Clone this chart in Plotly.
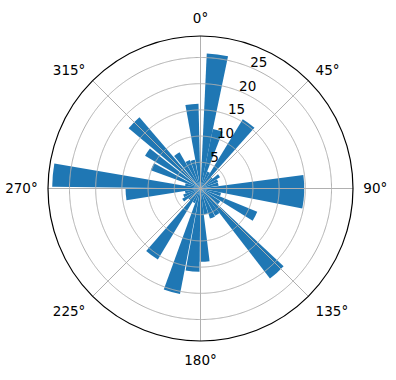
import numpy as np
import plotly.graph_objects as go

# Bars: centre angle (deg, compass, clockwise from north), angular width (deg), radius
bar_theta = [354.2, 0.6, 7.2, 16.5, 26.4, 36.5, 46.0, 55.5, 65.0, 76.0, 91.8,
             106.5, 117.0, 127.5, 137.7, 147.0, 157.5, 168.0, 176.8, 185.5, 195.5,
             205.5, 216.0, 226.0, 236.0, 246.0, 256.0, 265.5, 275.2, 285.0, 294.3,
             304.5, 314.7, 325.5, 335.0, 344.5]
bar_width = [8.9, 3.5, 9.1, 9.6, 9.8, 10.3, 8.5, 9.0, 9.5, 11.0, 18.6,
             9.5, 9.5, 9.5, 9.3, 9.5, 10.0, 9.5, 7.8, 9.6, 9.0,
             9.5, 10.0, 9.5, 9.5, 9.5, 9.5, 9.0, 9.0, 9.0, 8.5,
             7.7, 9.4, 9.0, 9.0, 8.5]
bar_r = [16.2, 1.5, 25.8, 11.6, 3.5, 15.5, 3.0, 4.3, 3.6, 3.5, 19.8,
         4.0, 11.7, 4.5, 21.7, 5.9, 6.0, 5.0, 14.0, 15.9, 20.5,
         3.0, 15.8, 3.0, 4.0, 3.5, 3.0, 14.3, 28.3, 3.0, 10.1,
         12.3, 17.9, 8.0, 5.8, 5.6]

r_ticks = [5, 10, 15, 20, 25]
theta_ticks = [0, 45, 90, 135, 180, 225, 270, 315]
r_max = 29.1
r_label_angle = 25.0     # direction of radial tick labels (compass degrees)
r_label_pad = 1.3        # outward offset of radial tick labels (data units)

BLUE = "#1f77b4"
GRID = "#b0b0b0"
FONT = dict(family="DejaVu Sans", size=13.5, color="black")

fig = go.Figure()
fig.add_trace(go.Barpolar(
    r=bar_r, theta=bar_theta, width=bar_width,
    marker=dict(color=BLUE, line=dict(width=0)),
    hoverinfo="skip",
))

# grid drawn above bars (as in matplotlib)
circ = np.linspace(0, 360, 721)
for rv in r_ticks:
    fig.add_trace(go.Scatterpolar(r=[rv] * len(circ), theta=circ, mode="lines",
                                  line=dict(color=GRID, width=1), hoverinfo="skip"))
for tv in theta_ticks:
    fig.add_trace(go.Scatterpolar(r=[0, r_max], theta=[tv, tv], mode="lines",
                                  line=dict(color=GRID, width=1), hoverinfo="skip"))

# radial tick labels, matplotlib-style (centred on the label direction)
fig.add_trace(go.Scatterpolar(
    r=[v + r_label_pad for v in r_ticks], theta=[r_label_angle] * len(r_ticks),
    mode="text", text=[str(v) for v in r_ticks], textposition="middle center",
    textfont=FONT, hoverinfo="skip",
))

cx, cy, R = 200.5, 188.5, 152.5
W, H = 396, 380
fig.update_layout(
    width=W, height=H,
    margin=dict(l=0, r=0, t=0, b=0),
    paper_bgcolor="white",
    showlegend=False,
    font=FONT,
    polar=dict(
        domain=dict(x=[(cx - R) / W, (cx + R) / W], y=[1 - (cy + R) / H, 1 - (cy - R) / H]),
        bgcolor="white",
        bargap=0,
        angularaxis=dict(
            direction="clockwise", rotation=90,
            tickmode="array", tickvals=theta_ticks,
            ticktext=[f"{t}°" for t in theta_ticks],
            showgrid=False, showline=True, linecolor="black", linewidth=1.2,
            ticks="outside", ticklen=7, tickcolor="rgba(0,0,0,0)",
            tickfont=FONT,
        ),
        radialaxis=dict(
            range=[0, r_max], tickmode="array", tickvals=r_ticks,
            showgrid=False, showline=False, ticks="", showticklabels=False,
        ),
    ),
)

fig.write_html("out.html")
